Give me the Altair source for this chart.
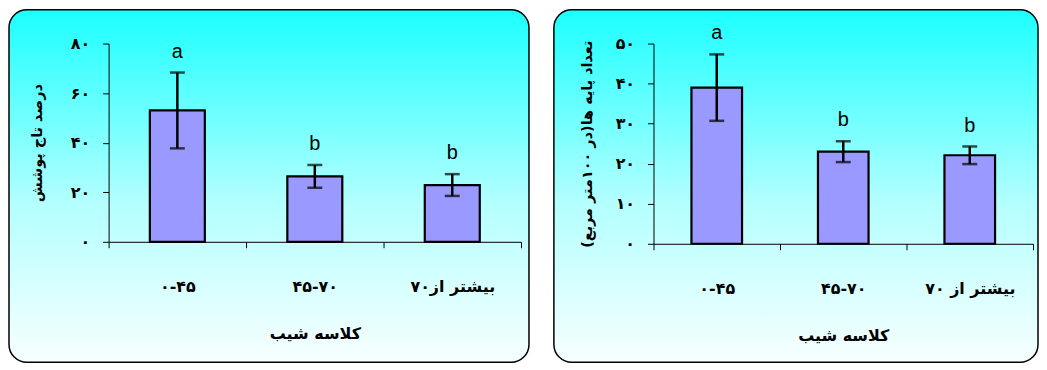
import json
import altair as alt
import pandas as pd

# ---- data ----
cats_left = ["۰-۴۵", "۴۵-۷۰", "بیشتر از۷۰"]
mean_left = [53.0, 26.4, 22.9]
err_left = [15.3, 4.6, 4.4]
letters_left = ["a", "b", "b"]
yvals_left = [0, 20, 40, 60, 80]
ylabels_left = ["۰", "۲۰", "۴۰", "۶۰", "۸۰"]
ytitle_left = "درصد تاج پوشش"

cats_right = ["۰-۴۵", "۴۵-۷۰", "بیشتر از ۷۰"]
mean_right = [39.0, 23.0, 22.1]
err_right = [8.3, 2.6, 2.2]
letters_right = ["a", "b", "b"]
yvals_right = [0, 10, 20, 30, 40, 50]
ylabels_right = ["۰", "۱۰", "۲۰", "۳۰", "۴۰", "۵۰"]
ytitle_right = "تعداد پایه ها(در ۱۰۰متر مربع)\u200f"

xtitle = "کلاسه شیب"

FA = "DejaVu Sans"
LAT = "Liberation Sans"

grad = alt.LinearGradient(
    gradient="linear",
    stops=[
        alt.GradientStop(color="#1cffff", offset=0),
        alt.GradientStop(color="#b4ffff", offset=0.55),
        alt.GradientStop(color="#f8ffff", offset=1),
    ],
    x1=0, x2=0, y1=0, y2=1,
)


def panel(cats, means, errs, letters, yvals, ylabels, ytitle, W, H, box, ytp):
    df = pd.DataFrame({
        "cat": cats,
        "mean": means,
        "low": [m - e for m, e in zip(means, errs)],
        "high": [m + e for m, e in zip(means, errs)],
        "letter": letters,
    })
    expr = f"{json.dumps(ylabels, ensure_ascii=False)}[indexof({json.dumps(yvals)}, datum.value)]"
    xscale = alt.Scale(domain=cats, paddingInner=0, paddingOuter=0)
    xenc = alt.X(
        "cat:N", sort=cats, scale=xscale,
        axis=alt.Axis(
            title=xtitle, labelAngle=0, tickBand="extent", tickSize=6,
            labelPadding=31, titlePadding=31, domainColor="black", tickColor="black",
            labelFont=FA, labelFontWeight="bold", labelFontSize=16, labelColor="black",
            titleFont=FA, titleFontWeight="bold", titleFontSize=16, titleColor="black",
            zindex=1,
        ),
    )
    xs = alt.X("cat:N", sort=cats, scale=xscale)
    yscale = alt.Scale(domain=[yvals[0], yvals[-1]], nice=False)
    yenc = alt.Y(
        "mean:Q", scale=yscale,
        axis=alt.Axis(
            title=ytitle, values=yvals, labelExpr=expr, grid=False, tickSize=6,
            labelPadding=13, titlePadding=ytp, domainColor="black", tickColor="black",
            labelFont=FA, labelFontWeight="bold", labelFontSize=16, labelColor="black",
            titleFont=FA, titleFontWeight="bold", titleFontSize=14.5, titleColor="black",
            zindex=1,
        ),
    )
    bg = alt.Chart(alt.Data(values=[{}])).mark_rect(
        fill=grad, stroke="black", strokeWidth=1.5, cornerRadius=18
    ).encode(
        x=alt.value(box[0]), x2=alt.value(box[1]),
        y=alt.value(box[2]), y2=alt.value(box[3]),
    )
    base = alt.Chart(df)
    bars = base.mark_bar(
        color="#9999ff", stroke="black", strokeWidth=2.2,
        width=alt.RelativeBandSize(0.4),
    ).encode(x=xenc, y=yenc)
    rule = base.mark_rule(color="black", strokeWidth=2.5).encode(
        x=xs, y="low:Q", y2="high:Q")
    cap_lo = base.mark_tick(color="black", thickness=2.5, size=15).encode(
        x=xs, y="low:Q")
    cap_hi = base.mark_tick(color="black", thickness=2.5, size=15).encode(
        x=xs, y="high:Q")
    txt = base.mark_text(
        dy=-15, baseline="alphabetic", font=LAT, fontSize=20, color="black"
    ).encode(x=xs, y="high:Q", text="letter:N")
    return alt.layer(bg, bars, rule, cap_lo, cap_hi, txt).properties(width=W, height=H)


left = panel(cats_left, mean_left, err_left, letters_left, yvals_left, ylabels_left,
             ytitle_left, 414, 199, (-100, 422, -34, 320), 26)
right = panel(cats_right, mean_right, err_right, letters_right, yvals_right, ylabels_right,
              ytitle_right, 381, 201, (-100, 386, -34, 320), 21)

chart = alt.hconcat(left, right, spacing=23).properties(
    padding=0, background="white"
).configure_view(strokeWidth=0)

chart.save("out.html", embed_options={"renderer": "svg", "actions": False})
